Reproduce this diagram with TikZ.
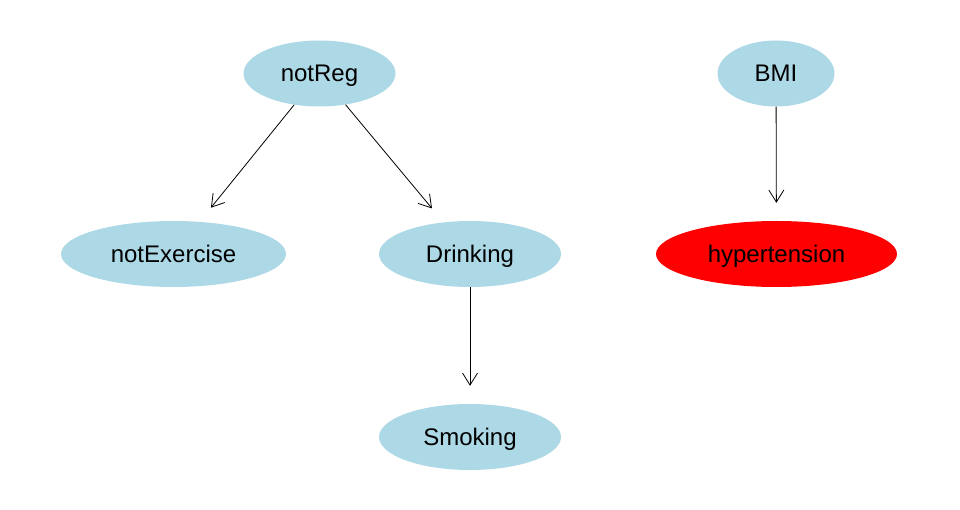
\documentclass[tikz,border=0pt]{standalone}
\usepackage{fontspec}
\setmainfont{Liberation Sans}
\usetikzlibrary{shapes.geometric,arrows.meta}
\definecolor{nodeblue}{HTML}{ADD8E6}
\definecolor{nodered}{HTML}{FF0000}
\tikzset{
  bnode/.style={ellipse, fill=nodeblue, draw=none, inner sep=0pt,
    minimum height=66pt, font=\fontsize{24}{28}\selectfont,
    text height=17pt, text depth=0pt},
  rnode/.style={bnode, fill=nodered},
  edge/.style={draw=black, line width=0.8pt,
    -{Straight Barb[length=12pt,width=15pt]}, shorten >=18pt}
}
\begin{document}
\begin{tikzpicture}[x=1pt,y=-1pt]
\useasboundingbox (0,0) rectangle (960,510);
\node[bnode, minimum width=152pt] (notReg) at (319.5,73.5) {notReg};
\node[bnode, minimum width=117pt] (BMI) at (776,73.5) {BMI};
\node[bnode, minimum width=225pt] (notExercise) at (173.5,254) {notExercise};
\node[bnode, minimum width=182pt] (Drinking) at (470,254) {Drinking};
\node[rnode, minimum width=241pt] (hypertension) at (776.5,254) {hypertension};
\node[bnode, minimum width=182pt] (Smoking) at (470,437) {Smoking};
\draw[edge] (notReg) -- (notExercise);
\draw[edge] (notReg) -- (Drinking);
\draw[edge] (Drinking) -- (Smoking);
\draw[edge] (BMI) -- (hypertension);
\end{tikzpicture}
\end{document}
